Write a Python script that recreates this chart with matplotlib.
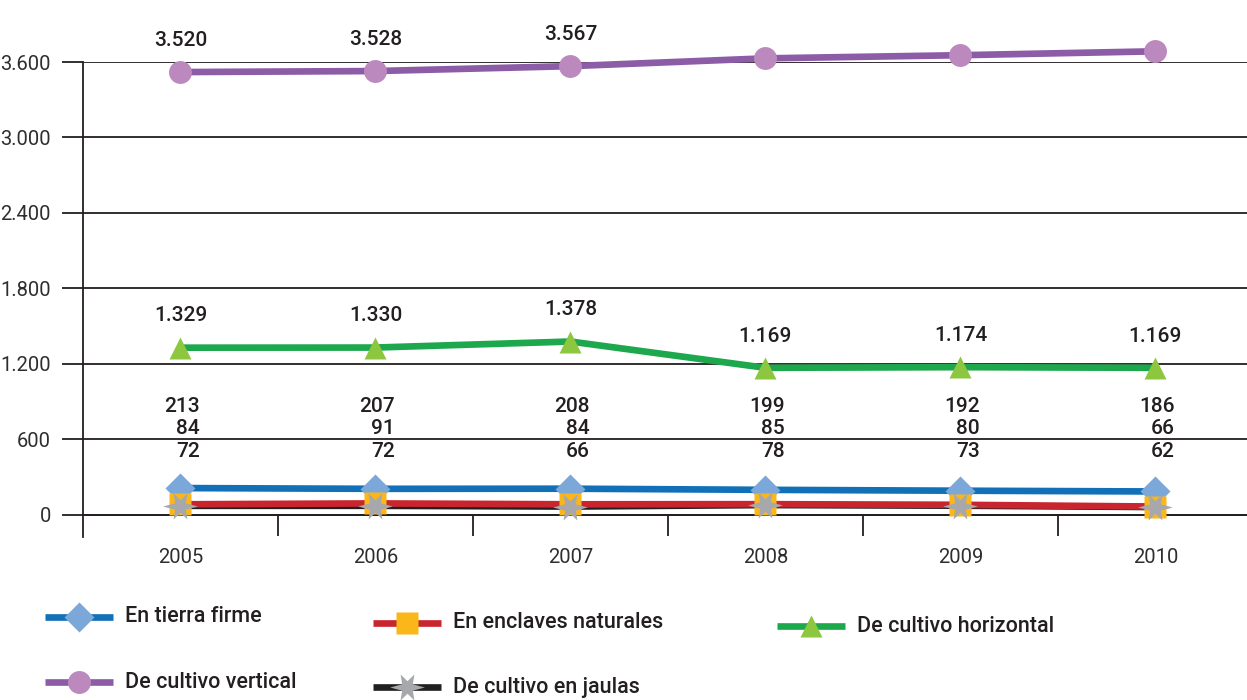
import matplotlib
matplotlib.use("Agg")
import matplotlib.pyplot as plt
import numpy as np
from matplotlib.path import Path
from matplotlib.lines import Line2D
from matplotlib.ticker import FuncFormatter

plt.rcParams['font.family'] = ['Roboto', 'DejaVu Sans']

years = ["2005", "2006", "2007", "2008", "2009", "2010"]
tierra_firme = [213, 207, 208, 199, 192, 186]
enclaves_naturales = [84, 91, 84, 85, 80, 66]
cultivo_horizontal = [1329, 1330, 1378, 1169, 1174, 1169]
cultivo_vertical = [3520, 3528, 3567, 3629, 3654, 3685]
cultivo_jaulas = [72, 72, 66, 78, 73, 62]
y_ticks = [0, 600, 1200, 1800, 2400, 3000, 3600]


def thousands(v, _pos=None):
    return f"{int(round(v)):,}".replace(",", ".")


# six-pointed star with longer horizontal arms
def spiky_star():
    angles = [0, 62, 118, 180, 242, 298]
    outer = [1.0, 0.85, 0.85, 1.0, 0.85, 0.85]
    verts = []
    for i, (a, r) in enumerate(zip(angles, outer)):
        ar = np.deg2rad(a)
        verts.append((r * np.cos(ar), r * np.sin(ar)))
        nxt = angles[(i + 1) % len(angles)] + (360 if i == len(angles) - 1 else 0)
        mid = np.deg2rad((a + nxt) / 2)
        verts.append((0.36 * np.cos(mid), 0.36 * np.sin(mid)))
    verts.append(verts[0])
    codes = [Path.MOVETO] + [Path.LINETO] * (len(verts) - 2) + [Path.CLOSEPOLY]
    return Path(verts, codes)


STAR = spiky_star()

series = [
    # label, values, line colour, marker, marker colour, marker size
    ("En tierra firme", tierra_firme, "#1170b8", "D", "#7ba7d9", 15.5),
    ("En enclaves naturales", enclaves_naturales, "#c9252f", "s", "#fbb61a", 16),
    ("De cultivo horizontal", cultivo_horizontal, "#1ea84e", "^", "#8dc63f", 16),
    ("De cultivo vertical", cultivo_vertical, "#8c5ca6", "o", "#bb89bd", 16.5),
    ("De cultivo en jaulas", cultivo_jaulas, "#231f20", STAR, "#a6a8ab", 25),
]

fig = plt.figure(figsize=(12.47, 7.0), dpi=100)
ax = fig.add_axes([83 / 1247, (700 - 536.5) / 700, 1 - 83 / 1247, (536.5 - 62) / 700])

x = np.arange(len(years))
draw_order = [4, 1, 0, 2, 3]
for z, idx in enumerate(draw_order):
    name, vals, lc, mk, mc, ms = series[idx]
    ax.plot(x, vals, color=lc, lw=4.8, solid_capstyle="butt", zorder=3 + z, clip_on=False)
for z, idx in enumerate([0, 1, 4, 2, 3]):
    name, vals, lc, mk, mc, ms = series[idx]
    ax.plot(x, vals, ls="none", marker=mk, markersize=ms, markerfacecolor=mc,
            markeredgecolor="none", zorder=10 + z, clip_on=False)

ax.set_xlim(-0.5, 5.47)
ax.set_ylim(-172, 3600)
ax.set_yticks(y_ticks)
ax.yaxis.set_major_formatter(FuncFormatter(thousands))
ax.grid(axis="y", color="#231f20", lw=1.3)
ax.set_axisbelow(True)

for s in ["top", "right"]:
    ax.spines[s].set_visible(False)
ax.spines["left"].set_color("#231f20")
ax.spines["left"].set_linewidth(1.3)
ax.spines["bottom"].set_position(("data", 0))
ax.spines["bottom"].set_color("#231f20")
ax.spines["bottom"].set_linewidth(1.3)

ax.tick_params(axis="y", direction="out", length=15, width=1.3, color="#231f20",
               labelsize=14.5, labelcolor="#2e2e2e", pad=8)
ax.set_xticks(x)
ax.set_xticklabels(years)
ax.set_xticks(x[:-1] + 0.5, minor=True)
ax.tick_params(axis="x", which="major", length=0, pad=24, labelsize=14.5, labelcolor="#2e2e2e")
ax.tick_params(axis="x", which="minor", direction="out", length=15, width=1.3, color="#231f20")

# value labels above the upper two series
for vals in (cultivo_vertical, cultivo_horizontal):
    for xi, v in zip(x, vals):
        ax.annotate(thousands(v), (xi, v), xytext=(0, 16), textcoords="offset points",
                    ha="center", va="bottom", fontsize=15, fontweight="medium",
                    color="#231f20", zorder=20)

# stacked value labels for the three low series
label_rows = [(tierra_firme, 860), (enclaves_naturales, 687), (cultivo_jaulas, 505)]
for vals, ypos in label_rows:
    for xi, v in zip(x, vals):
        ax.text(xi + 0.1, ypos, thousands(v), ha="right", va="center", fontsize=15,
                fontweight="medium", color="#231f20", zorder=20)

# legend drawn in pixel coordinates of the figure
lax = fig.add_axes([0, 0, 1, 1], facecolor="none")
lax.set_xlim(0, 1247)
lax.set_ylim(700, 0)
lax.axis("off")
legend_pos = [(45, 617), (373, 623), (777, 626), (45, 682), (373, 687)]
for (name, vals, lc, mk, mc, ms), (lx, ly) in zip(series, legend_pos):
    lax.add_line(Line2D([lx, lx + 68], [ly, ly], color=lc, lw=4.8, solid_capstyle="butt"))
    lax.add_line(Line2D([lx + 34], [ly], ls="none", marker=mk, markersize=ms,
                        markerfacecolor=mc, markeredgecolor="none"))
    lax.text(lx + 80, ly, name, ha="left", va="center", fontsize=15.5,
             fontweight="medium", color="#231f20")

fig.savefig("out.png", dpi=100)
